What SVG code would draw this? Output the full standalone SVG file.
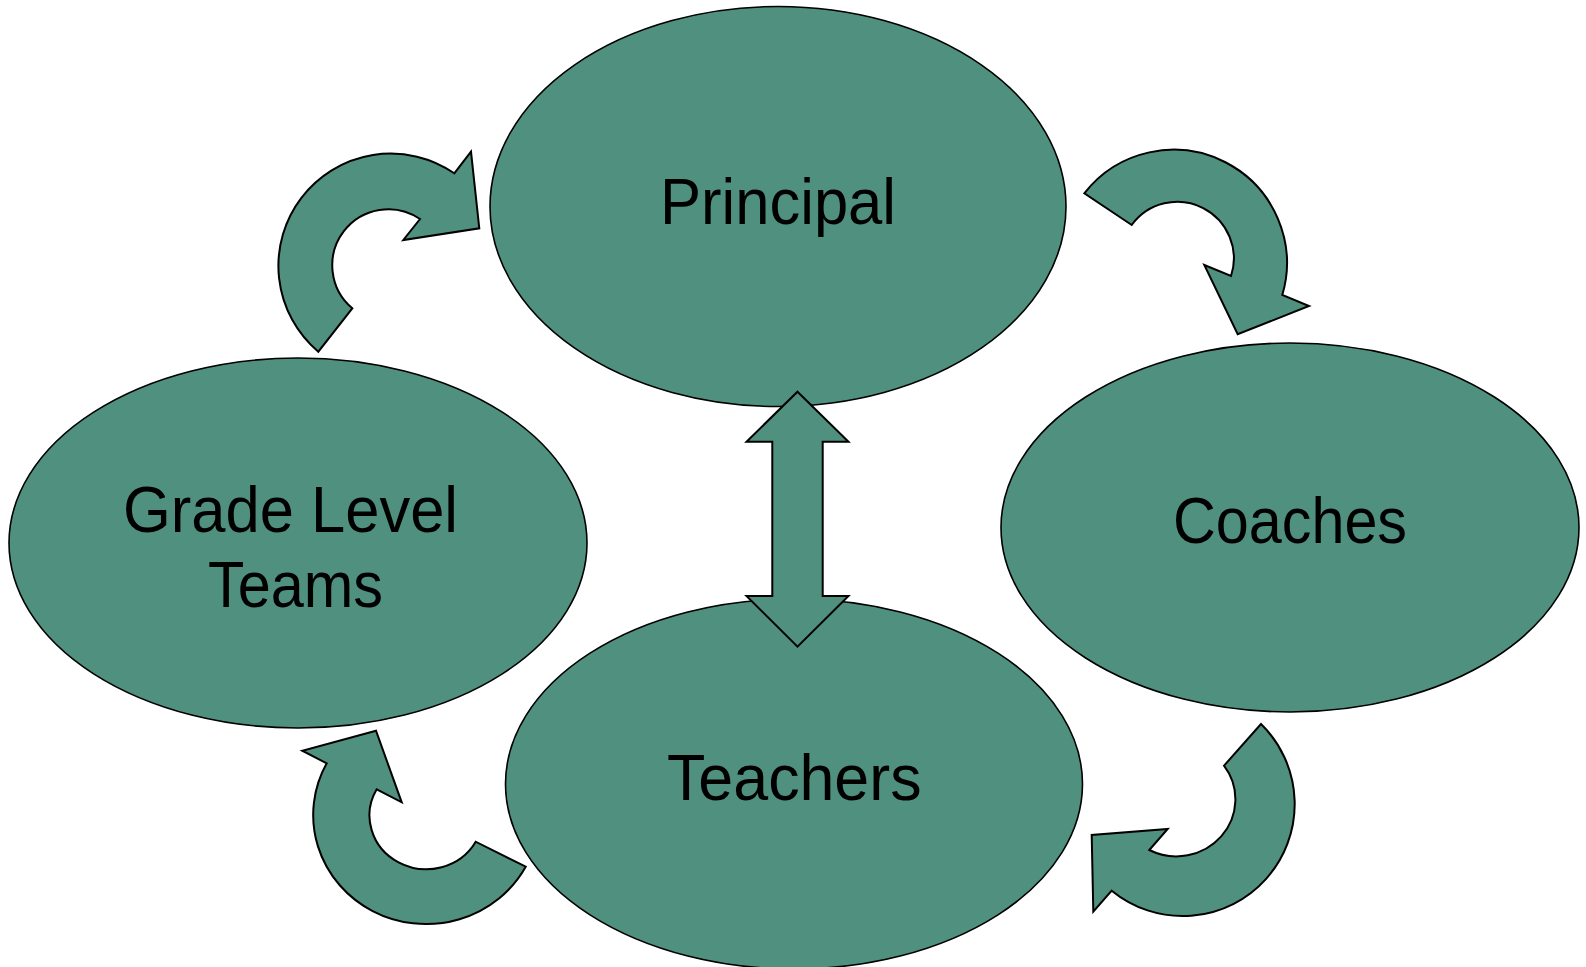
<svg xmlns="http://www.w3.org/2000/svg" width="1586" height="967" viewBox="0 0 1586 967">
  <style>
    .node { fill: #50907E; stroke: #000; stroke-width: 1.6; }
    .arrow { fill: #50907E; stroke: #000; stroke-width: 2; stroke-linejoin: miter; }
    .label { font-family: "Liberation Sans", Arial, sans-serif; font-size: 64px; fill: #000; }
  </style>
  <rect width="1586" height="967" fill="#fff"/>

  <g id="node-principal">
    <ellipse class="node" cx="778" cy="206.5" rx="288" ry="200"/>
    <text class="label" x="660" y="224.3" textLength="236" lengthAdjust="spacingAndGlyphs">Principal</text>
  </g>

  <g id="node-grade-level-teams">
    <ellipse class="node" cx="298" cy="543" rx="289" ry="185"/>
    <text class="label" x="123" y="531.7" textLength="335" lengthAdjust="spacingAndGlyphs">Grade Level</text>
    <text class="label" x="208" y="606.7" textLength="175" lengthAdjust="spacingAndGlyphs">Teams</text>
  </g>

  <g id="node-coaches">
    <ellipse class="node" cx="1290" cy="527.5" rx="289" ry="184.5"/>
    <text class="label" x="1173" y="543.3" textLength="234" lengthAdjust="spacingAndGlyphs">Coaches</text>
  </g>

  <g id="node-teachers">
    <ellipse class="node" cx="794" cy="784" rx="288.5" ry="185"/>
    <text class="label" x="667" y="800" textLength="254.5" lengthAdjust="spacingAndGlyphs">Teachers</text>
  </g>

  <g id="connectors">
    <!-- Grade Level Teams -> Principal -->
    <path class="arrow" d="M 318.3 351.7 A 112.3 112.3 0 0 1 454.3 173.3 L 471 151.7 L 479.3 228.3 L 403.3 240 L 420 219 A 56.1 56.1 0 0 0 352.3 308.3 Z"/>
    <!-- Principal -> Coaches -->
    <path class="arrow" d="M 1084.3 193.3 A 113.3 113.3 0 0 1 1282.3 295 L 1309 306 L 1237.7 334.3 L 1204.3 265 L 1231 276 A 56.5 56.5 0 0 0 1131.7 225 Z"/>
    <!-- Teachers -> Grade Level Teams -->
    <path class="arrow" d="M 525.7 866.7 A 100 96.5 0 0 1 326.7 763.3 L 302.3 750.7 L 376 730.7 L 401.7 802.3 L 376.7 789.3 A 50 47.4 0 0 0 475.7 841.7 Z"/>
    <!-- Coaches -> Teachers -->
    <path class="arrow" d="M 1261 724 A 112 112 0 0 1 1111.7 890.7 L 1093.3 911.7 L 1091.7 835 L 1167.7 829 L 1149.3 850 A 59 57 0 0 0 1224 765.7 Z"/>
    <!-- Principal <-> Teachers -->
    <polygon class="arrow" points="797.5,391.7 848.5,441.7 822.7,441.7 822.7,596 848.5,596 797.5,646.7 746.5,596 772.3,596 772.3,441.7 746.5,441.7"/>
  </g>
</svg>
